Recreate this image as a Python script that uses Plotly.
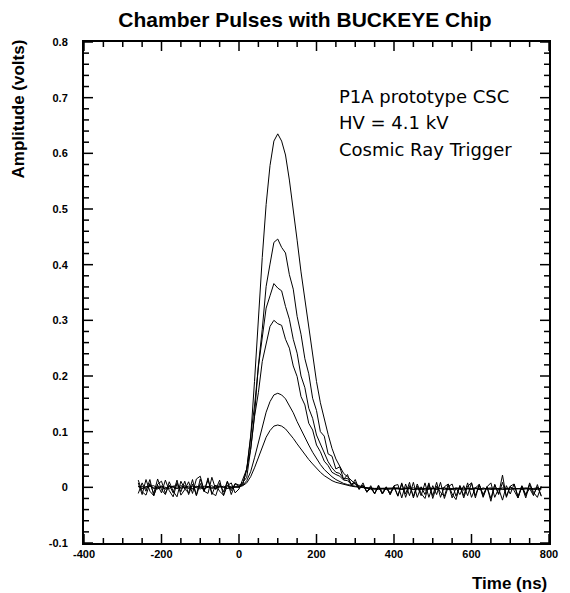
import plotly.graph_objects as go

# Sampling: first sample at -260 ns, one sample every 10 ns
T0_NS = -260
DT_NS = 10

# Digitized pulse amplitudes in millivolts (pre-trigger baseline, pulse, post-pulse baseline)
pulse_a_mv = [
    2, -2, 1, 3, -2, 0, 2, -3, 1, 2, -2, 0, 3, -1, -2, 2, 0, -3, 2, -1, -2, 2, 0, 3, -2, 1,
    0, 6, 32, 89, 190, 305, 413, 508, 578, 622, 635, 622, 597, 552, 502, 444, 387, 337, 286, 235,
    190, 152, 121, 95, 70, 51, 38, 25, 19, 13, 6, 3, 0, -2, -3, -4, -4, -3, -4, -3, -3,
    -2, -4, -3, -1, -4, -3, -2, -5, -3, -2, -4, -3, -1, -3, -4, -2, -3, -5, -2, -3,
    -1, -4, -3, -2, -4, -3, -2, -3, -4, -1, -3, -2, -4, -3, -2, -3, -4, -2,
]
pulse_b_mv = [
    8, -13, 14, -7, -15, 6, 11, -11, 4, -10, 13, -14, -4, 10, -11, 15, 20, -6, 13, -10, -15, 7, -8, 11, -13, 6,
    2, 9, 18, 68, 130, 219, 284, 361, 401, 440, 446, 431, 421, 382, 356, 307, 275, 231, 204, 160,
    138, 100, 92, 60, 56, 33, 37, 14, 23, 3, 14, -4, 8, -9, 3, -12, 4, -10, 1, -13, 3,
    5, -19, 6, -15, 9, -18, 1, -13, 8, -20, 2, -9, -16, 6, -12, -22, 3, -15, 8, -18,
    -1, 5, -16, 1, -20, 5, -12, 22, -18, 2, -6, -19, 3, -13, -2, -15, 5, -16,
]
pulse_c_mv = [
    -11, 8, -7, 14, -15, 4, -10, 13, -6, -17, 8, -8, 11, -13, 6, -14, 15, -7, -11, 18, -4, 13, -15, 3, 8, -10,
    -3, 15, 33, 92, 146, 216, 266, 322, 344, 366, 358, 353, 325, 302, 266, 241, 200, 179, 142, 124,
    94, 77, 60, 46, 35, 27, 25, 15, 16, 6, 9, -2, 3, -8, -2, -11, 2, -12, 0, -10, 2,
    -15, 8, -18, 3, -16, 6, -11, -20, 5, -15, 9, -18, 1, 6, -19, -1, -13, 3, -15, 8,
    -19, 5, -13, 1, 8, -18, -2, -23, 3, -12, 6, -16, 2, -19, 5, -13, 1, -15,
]
pulse_d_mv = [
    13, -8, -14, 7, -11, 15, -4, -13, 10, -7, -17, 11, -3, -10, 14, -15, 7, -8, 17, -13, 4, -7, -14, 10, -6, 7,
    4, 6, 34, 68, 127, 170, 226, 257, 289, 300, 294, 291, 266, 250, 218, 199, 163, 148, 115, 103,
    76, 64, 47, 39, 27, 23, 20, 13, 12, 5, 7, -3, 4, -8, 1, -11, 2, -12, 0, -13, 1,
    -16, 6, -12, 9, -19, 2, -15, 8, -18, 3, -13, 9, -20, 1, 6, -16, 3, -19, 2, 8,
    -15, 5, -18, 1, -25, 5, -13, 9, -16, 2, 6, -19, 1, -15, 8, -9, -18, 2,
]
pulse_e_mv = [
    1, 2, -2, 3, -1, -3, 2, 0, -2, 2, 3, -2, 0, 2, -3, 1, 2, -2, 0, 3, -2, 2, 0, -2, 2, 0,
    1, 4, 12, 28, 53, 82, 110, 135, 154, 166, 169, 166, 159, 147, 134, 118, 103, 90, 76, 63,
    51, 41, 32, 25, 19, 14, 10, 7, 5, 3, 2, 1, 0, -1, -1, -2, -2, -2, -2, -2, -2,
    -2, -3, -1, -2, -4, -2, -1, -3, -2, -3, -1, -2, -4, -2, -3, -1, -2, -3, -2, -4,
    -1, -2, -3, -2, -1, -3, -2, -4, -2, -1, -3, -2, -3, -1, -2, -4, -2, -3,
]
pulse_f_mv = [
    2, -2, 1, 2, 3, -2, 0, -3, 2, 0, -2, 3, 0, -2, 2, 0, -3, 2, 1, -2, 3, 0, 2, -2, 0, 1,
    1, 3, 8, 19, 35, 54, 73, 90, 102, 110, 112, 110, 105, 97, 88, 78, 68, 59, 50, 42,
    34, 27, 21, 16, 12, 9, 7, 5, 3, 2, 1, 0, -1, -1, -2, -2, -2, -2, -2, -2, -2,
    -1, -3, -2, -2, -1, -3, -4, -2, -1, -2, -3, -2, -1, -4, -2, -3, -2, -1, -3, -2,
    -2, -4, -1, -3, -2, -2, -3, -1, -2, -4, -2, -3, -1, -2, -3, -2, -1, -3,
]

pulses_mv = [pulse_a_mv, pulse_b_mv, pulse_c_mv, pulse_d_mv, pulse_e_mv, pulse_f_mv]

X_RANGE = [-400, 800]
Y_RANGE = [-0.1, 0.8]
x_ticks = [-400, -200, 0, 200, 400, 600, 800]
y_ticks = [-0.1, 0, 0.1, 0.2, 0.3, 0.4, 0.5, 0.6, 0.7, 0.8]
y_tick_text = ["-0.1", "0", "0.1", "0.2", "0.3", "0.4", "0.5", "0.6", "0.7", "0.8"]

info_lines = ["P1A prototype CSC", "HV = 4.1 kV", "Cosmic Ray Trigger"]
info_x = 253
info_y = [0.703, 0.655, 0.606]

# Plot-area geometry (pixels)
W, H = 570, 593
M_L, M_R, M_T, M_B = 84, 21, 42, 50
PLOT_W = W - M_L - M_R
PLOT_H = H - M_T - M_B

fig = go.Figure()
for trace_mv in pulses_mv:
    t_ns = [T0_NS + DT_NS * i for i in range(len(trace_mv))]
    fig.add_trace(go.Scatter(
        x=t_ns, y=[v / 1000.0 for v in trace_mv], mode="lines",
        line=dict(color="black", width=1), showlegend=False, hoverinfo="skip",
    ))

# Inside tick marks on all four sides (major every 200 ns / 0.1 V, minor every 50 ns / 0.02 V)
MAJOR_LEN, MINOR_LEN = 9, 5
x_minor = [v for v in range(X_RANGE[0], X_RANGE[1] + 1, 50) if v % 200 != 0]
y_minor = [round(-0.1 + 0.02 * k, 2) for k in range(46) if k % 5 != 0]
tick_line = dict(color="black", width=1.5)
for vals, ln in ((x_ticks, MAJOR_LEN), (x_minor, MINOR_LEN)):
    for v in vals:
        f = ln / PLOT_H
        fig.add_shape(type="line", xref="x", yref="paper", x0=v, x1=v, y0=0, y1=f,
                      line=tick_line, layer="above")
        fig.add_shape(type="line", xref="x", yref="paper", x0=v, x1=v, y0=1, y1=1 - f,
                      line=tick_line, layer="above")
for vals, ln in ((y_ticks, MAJOR_LEN), (y_minor, MINOR_LEN)):
    for v in vals:
        f = ln / PLOT_W
        fig.add_shape(type="line", xref="paper", yref="y", x0=0, x1=f, y0=v, y1=v,
                      line=tick_line, layer="above")
        fig.add_shape(type="line", xref="paper", yref="y", x0=1, x1=1 - f, y0=v, y1=v,
                      line=tick_line, layer="above")

tick_font = dict(family="Liberation Sans, Arial, sans-serif", size=11, color="black", weight="bold")
axis_common = dict(
    showgrid=False, zeroline=False, showline=True, linecolor="black", linewidth=2,
    mirror=True, ticks="", tickfont=tick_font,
)
fig.update_xaxes(range=X_RANGE, tickvals=x_ticks, ticktext=[str(v) for v in x_ticks], **axis_common)
fig.update_yaxes(range=Y_RANGE, tickvals=y_ticks, ticktext=y_tick_text,
                 ticklabelstandoff=12, **axis_common)

for text, yv in zip(info_lines, info_y):
    fig.add_annotation(
        x=info_x, y=yv, xref="x", yref="y", text=text, showarrow=False,
        xanchor="left", yanchor="middle",
        font=dict(family="DejaVu Sans, sans-serif", size=18, color="black"),
    )

label_font = dict(family="Liberation Sans, Arial, sans-serif", size=17, color="black", weight="bold")
fig.add_annotation(
    text="Amplitude (volts)", textangle=-90, showarrow=False,
    xref="paper", yref="paper", x=(18 - M_L) / PLOT_W, y=(H - M_B - 38) / PLOT_H,
    xanchor="center", yanchor="top", font=label_font,
)
fig.add_annotation(
    text="Time (ns)", showarrow=False,
    xref="paper", yref="paper", x=1.0, y=(H - M_B - 583) / PLOT_H,
    xanchor="right", yanchor="middle", font=label_font,
)

fig.update_layout(
    width=W, height=H,
    margin=dict(l=M_L, r=M_R, t=M_T, b=M_B),
    paper_bgcolor="white", plot_bgcolor="white",
    title=dict(
        text="Chamber Pulses with BUCKEYE Chip",
        x=305 / W, xanchor="center", xref="container",
        y=1 - 20 / H, yanchor="middle", yref="container",
        font=dict(family="Liberation Sans, Arial, sans-serif", size=21, color="black", weight="bold"),
    ),
)

fig.write_html("out.html")
